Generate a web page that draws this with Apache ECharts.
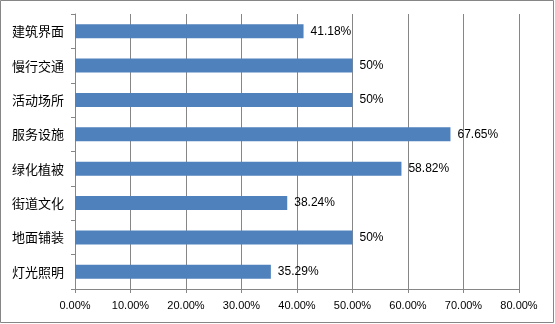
<!DOCTYPE html>
<html>
<head>
<meta charset="utf-8">
<script src="https://cdn.jsdelivr.net/npm/echarts@6/dist/echarts.min.js"></script>
<style>
  html, body { margin: 0; padding: 0; background: #fff; }
  #chart { width: 555px; height: 324px; }
</style>
</head>
<body>
<div id="chart"></div>
<script>
// Categories listed top to bottom
const categories = ['建筑界面', '慢行交通', '活动场所', '服务设施', '绿化植被', '街道文化', '地面铺装', '灯光照明'];
// Share of each item, in percent
const shares = [41.18, 50, 50, 67.65, 58.82, 38.24, 50, 35.29];
// Value axis range, in percent
const axisMin = 0;
const axisMax = 80;
const axisStep = 10;

const chart = echarts.init(document.getElementById('chart'), null, { renderer: 'canvas' });
const lineColor = '#868686';

chart.setOption({
  animation: false,
  backgroundColor: '#ffffff',
  grid: { left: 75, right: 36, top: 14, bottom: 35, containLabel: false },
  graphic: [{
    type: 'rect',
    shape: { x: 0.5, y: 0.5, width: 553, height: 322 },
    style: { fill: 'none', stroke: lineColor, lineWidth: 1 },
    silent: true
  }],
  xAxis: {
    type: 'value',
    min: axisMin,
    max: axisMax,
    interval: axisStep,
    axisLine: { show: true, lineStyle: { color: lineColor, width: 1 } },
    axisTick: { show: true, length: 4, lineStyle: { color: lineColor } },
    splitLine: { show: true, lineStyle: { color: lineColor, width: 1 } },
    axisLabel: {
      color: '#000',
      fontFamily: 'Liberation Sans',
      fontSize: 11,
      margin: 11,
      formatter: v => v.toFixed(2) + '%'
    }
  },
  yAxis: {
    type: 'category',
    data: categories,
    inverse: true,
    axisLine: { show: true, lineStyle: { color: lineColor, width: 1 } },
    axisTick: { show: true, length: 4, lineStyle: { color: lineColor } },
    splitLine: { show: false },
    axisLabel: {
      color: '#000',
      fontFamily: 'Noto Sans CJK SC',
      fontSize: 13,
      margin: 11
    }
  },
  series: [{
    type: 'bar',
    data: shares,
    barWidth: 14,
    itemStyle: { color: '#4F81BD' },
    label: {
      show: true,
      position: 'right',
      distance: 7,
      color: '#000',
      fontFamily: 'Liberation Sans',
      fontSize: 12,
      formatter: p => p.value + '%'
    }
  }]
});
</script>
</body>
</html>
